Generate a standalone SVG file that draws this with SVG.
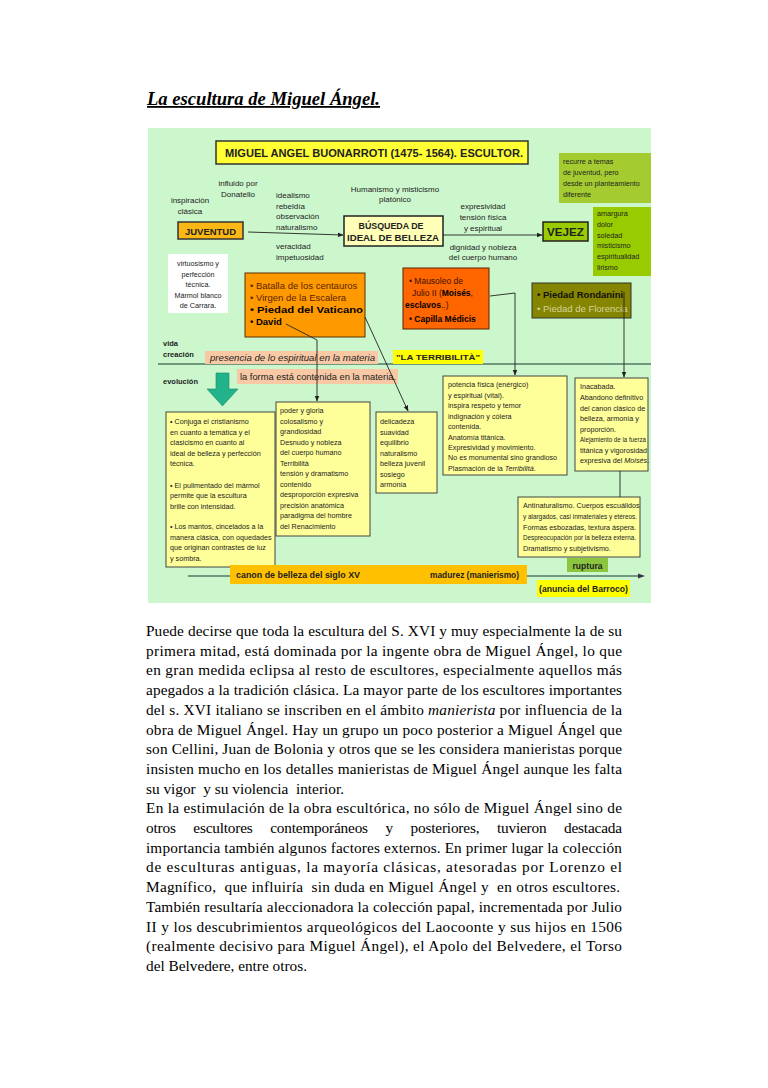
<svg xmlns="http://www.w3.org/2000/svg" width="768" height="1088" viewBox="0 0 768 1088">
<style>
.s{font-family:"Liberation Sans",Arial,sans-serif;fill:#222}
.l{font-size:8px}
.t{font-size:7.2px}
.b{font-weight:bold}
.i{font-style:italic}
.m{text-anchor:middle}
.body{font-family:"Liberation Serif","Times New Roman",serif;font-size:15.3px;fill:#000}
.box{stroke:#333;stroke-width:1}
.yb{fill:#ffff99;stroke:#444;stroke-width:1}
.cn{fill:none;stroke:#222;stroke-width:0.9}
</style>
<defs>
<marker id="ah" viewBox="0 0 10 10" refX="9" refY="5" markerWidth="6" markerHeight="6" markerUnits="userSpaceOnUse" orient="auto">
<path d="M0,1 L10,5 L0,9 z" fill="#222"/>
</marker>
</defs>
<rect width="768" height="1088" fill="#fff"/>
<text x="147" y="105" font-family="Liberation Serif,serif" font-size="18" font-weight="bold" font-style="italic" text-decoration="underline" fill="#000" textLength="233" lengthAdjust="spacingAndGlyphs">La escultura de Miguel Ángel.</text>

<rect x="148" y="128" width="503" height="475" fill="#ccf7cc"/>

<g id="title">
<rect x="216" y="141" width="312" height="23" fill="#ffff33" stroke="#333" stroke-width="1.5"/>
<text class="s b" x="225" y="157" font-size="11" textLength="298" lengthAdjust="spacingAndGlyphs">MIGUEL ANGEL BUONARROTI (1475- 1564). ESCULTOR.</text>
</g>

<g id="labels-juventud">
<text class="s l m" x="238" y="186">influido por</text>
<text class="s l m" x="238" y="197">Donatello</text>
<text class="s l m" x="190" y="203">inspiración</text>
<text class="s l m" x="190" y="214">clásica</text>
</g>

<g id="juventud">
<rect x="178" y="222" width="65" height="17" fill="#fbb814" stroke="#333" stroke-width="1.5"/>
<text class="s b m" x="210.5" y="234.5" font-size="9.5" textLength="51" lengthAdjust="spacingAndGlyphs">JUVENTUD</text>
</g>

<g id="labels-busqueda-left">
<text class="s l" x="276" y="198">idealismo</text>
<text class="s l" x="276" y="208.5">rebeldía</text>
<text class="s l" x="276" y="219">observación</text>
<text class="s l" x="276" y="229.5">naturalismo</text>
<text class="s l" x="276" y="249">veracidad</text>
<text class="s l" x="276" y="259.5">impetuosidad</text>
<text class="s l m" x="395" y="192">Humanismo y misticismo</text>
<text class="s l m" x="395" y="202">platónico</text>
</g>

<g id="busqueda">
<rect x="344" y="216" width="99" height="30" fill="#ffffb8" stroke="#222" stroke-width="1.5"/>
<text class="s b m" x="391" y="228.5" font-size="9" textLength="65" lengthAdjust="spacingAndGlyphs">BÚSQUEDA DE</text>
<text class="s b m" x="393" y="241" font-size="9" textLength="92" lengthAdjust="spacingAndGlyphs">IDEAL DE BELLEZA</text>
</g>

<g id="labels-vejez-left">
<text class="s l m" x="483" y="209">expresividad</text>
<text class="s l m" x="483" y="220">tensión física</text>
<text class="s l m" x="483" y="231">y espiritual</text>
<text class="s l m" x="483" y="250">dignidad y nobleza</text>
<text class="s l m" x="483" y="260">del cuerpo humano</text>
</g>

<g id="vejez">
<rect x="543" y="222" width="45" height="19" fill="#99cc00" stroke="#222" stroke-width="1.5"/>
<text class="s b m" x="565.5" y="235.5" font-size="10" textLength="37" lengthAdjust="spacingAndGlyphs">VEJEZ</text>
</g>

<g id="recurre">
<rect x="559" y="153" width="92" height="50" fill="#a4cc30"/>
<text class="s t" x="563" y="164">recurre a temas</text>
<text class="s t" x="563" y="175">de juventud, pero</text>
<text class="s t" x="563" y="186">desde un planteamiento</text>
<text class="s t" x="563" y="197">diferente</text>
</g>

<g id="amargura">
<rect x="593" y="207" width="58" height="69" fill="#99cc00"/>
<text class="s t" x="597" y="216">amargura</text>
<text class="s t" x="597" y="226.5">dolor</text>
<text class="s t" x="597" y="237.5">soledad</text>
<text class="s t" x="597" y="248">misticismo</text>
<text class="s t" x="597" y="259">espiritualidad</text>
<text class="s t" x="597" y="270">lirismo</text>
</g>

<g id="virtuosismo">
<rect x="168" y="254" width="60" height="59" fill="#ffffff"/>
<text class="s t m" x="198" y="266">virtuosismo y</text>
<text class="s t m" x="198" y="276.5">perfección</text>
<text class="s t m" x="198" y="287">técnica.</text>
<text class="s t m" x="198" y="297.5">Mármol blanco</text>
<text class="s t m" x="198" y="308">de Carrara.</text>
</g>

<g id="obras-juventud">
<rect x="245" y="273" width="120" height="64" fill="#ff9900" stroke="#5a3000" stroke-width="1"/>
<text class="s" x="250" y="288.5" font-size="9.5" style="fill:#5a2400">• Batalla de los centauros</text>
<text class="s" x="250" y="300.5" font-size="9.5" style="fill:#5a2400">• Virgen de la Escalera</text>
<text class="s b" x="250" y="312.5" font-size="9.5" textLength="113" lengthAdjust="spacingAndGlyphs" style="fill:#000">• Piedad del  Vaticano</text>
<text class="s b" x="250" y="324.5" font-size="9.5" style="fill:#000">• David</text>
</g>

<g id="obras-madurez">
<rect x="403" y="268" width="86" height="61" fill="#ff6600" stroke="#5a2000" stroke-width="1"/>
<text class="s" x="409" y="284" font-size="8.5" style="fill:#3a1000">• Mausoleo de</text>
<text class="s" x="412" y="296" font-size="8.5" style="fill:#3a1000">Julio II (<tspan font-weight="bold" style="fill:#000">Moisés</tspan>,</text>
<text class="s" x="405" y="308" font-size="8.5" style="fill:#3a1000"><tspan font-weight="bold" style="fill:#000">esclavos</tspan>..)</text>
<text class="s b" x="409" y="322" font-size="8.5" style="fill:#000">• Capilla Médicis</text>
</g>

<g id="obras-vejez">
<rect x="532" y="283" width="99" height="35" fill="#858500" stroke="#333" stroke-width="1"/>
<text class="s b" x="537" y="297.5" font-size="9.5" style="fill:#111">• Piedad Rondanini</text>
<text class="s" x="537" y="311.5" font-size="9.5" style="fill:#d4d49a">• Piedad de Florencia</text>
</g>

<g id="timeline-top">
<line x1="158" y1="364" x2="651" y2="364" stroke="#557766" stroke-width="1.5"/>
<text class="s b" x="163" y="345.5" font-size="7.5">vida</text>
<text class="s b" x="163" y="356.5" font-size="7.5">creación</text>
<text class="s b" x="163" y="384" font-size="7.5">evolución</text>
</g>

<g id="presencia">
<rect x="205" y="351" width="173" height="13" fill="#f9c9a5"/>
<text class="s i" x="210" y="360.5" font-size="8.5" textLength="165" lengthAdjust="spacingAndGlyphs">presencia de lo espiritual  en la materia</text>
</g>

<g id="terribilita">
<rect x="393" y="350" width="90" height="14" fill="#ffff00"/>
<text class="s b" x="396" y="360" font-size="8" textLength="84" lengthAdjust="spacingAndGlyphs">"LA TERRIBILITÀ"</text>
</g>

<g id="forma">
<rect x="237" y="369" width="161" height="15" fill="#f9c9a5"/>
<text class="s" x="240" y="380" font-size="8.5" textLength="156" lengthAdjust="spacingAndGlyphs">la forma está contenida en la materia.</text>
</g>

<g id="flecha-evolucion">
<polygon points="216,373 229,373 229,389 238,389 222.5,406 207,389 216,389" fill="#22b38b" stroke="#178a6a" stroke-width="0.6"/>
</g>

<g id="conjuga">
<rect class="yb" x="166" y="412" width="109" height="155"/>
<text class="s t" x="170" y="424">• Conjuga el cristianismo</text>
<text class="s t" x="170" y="435">en cuanto a temática y el</text>
<text class="s t" x="170" y="445">clasicismo en cuanto al</text>
<text class="s t" x="170" y="456">ideal de belleza y perfección</text>
<text class="s t" x="170" y="466">técnica.</text>
<text class="s t" x="170" y="488">• El pulimentado del mármol</text>
<text class="s t" x="170" y="498">permite que la escultura</text>
<text class="s t" x="170" y="509">brille con intensidad.</text>
<text class="s t" x="170" y="529">• Los mantos, cincelados a la</text>
<text class="s t" x="170" y="540">manera clásica, con oquedades</text>
<text class="s t" x="170" y="550">que originan contrastes de luz</text>
<text class="s t" x="170" y="561">y sombra.</text>
</g>

<g id="poder">
<rect class="yb" x="276" y="402" width="94" height="134"/>
<text class="s t" x="280" y="413">poder y gloria</text>
<text class="s t" x="280" y="424">colosalismo y</text>
<text class="s t" x="280" y="434">grandiosidad</text>
<text class="s t" x="280" y="445">Desnudo y nobleza</text>
<text class="s t" x="280" y="455">del cuerpo humano</text>
<text class="s t" x="280" y="466">Terribilità</text>
<text class="s t" x="280" y="476">tensión y dramatismo</text>
<text class="s t" x="280" y="487">contenido</text>
<text class="s t" x="280" y="497">desproporción expresiva</text>
<text class="s t" x="280" y="508">precisión anatómica</text>
<text class="s t" x="280" y="518">paradigma del hombre</text>
<text class="s t" x="280" y="529">del Renacimiento</text>
</g>

<g id="delicadeza">
<rect class="yb" x="376" y="412" width="61" height="81"/>
<text class="s t" x="380" y="424">delicadeza</text>
<text class="s t" x="380" y="435">suavidad</text>
<text class="s t" x="380" y="445">equilibrio</text>
<text class="s t" x="380" y="456">naturalismo</text>
<text class="s t" x="380" y="466">belleza juvenil</text>
<text class="s t" x="380" y="477">sosiego</text>
<text class="s t" x="380" y="487">armonía</text>
</g>

<g id="potencia">
<rect class="yb" x="443" y="376" width="124" height="99"/>
<text class="s t" x="448" y="387">potencia física (enérgico)</text>
<text class="s t" x="448" y="398">y espiritual (vital).</text>
<text class="s t" x="448" y="408">inspira respeto y temor</text>
<text class="s t" x="448" y="419">indignación y cólera</text>
<text class="s t" x="448" y="429">contenida.</text>
<text class="s t" x="448" y="440">Anatomía titánica.</text>
<text class="s t" x="448" y="450">Expresividad y movimiento.</text>
<text class="s t" x="448" y="460">No es monumental sino grandioso</text>
<text class="s t" x="448" y="471">Plasmación de la <tspan class="i">Terribilità</tspan>.</text>
</g>

<g id="inacabada">
<rect class="yb" x="575" y="378" width="73" height="93"/>
<text class="s t" x="580" y="389">Inacabada.</text>
<text class="s t" x="580" y="400">Abandono definitivo</text>
<text class="s t" x="580" y="411">del canon clásico de</text>
<text class="s t" x="580" y="421">belleza, armonía y</text>
<text class="s t" x="580" y="432">proporción.</text>
<text class="s t" x="580" y="442" textLength="66" lengthAdjust="spacingAndGlyphs">Alejamiento de la fuerza</text>
<text class="s t" x="580" y="453">titánica y vigorosidad</text>
<text class="s t" x="580" y="463">expresiva del <tspan class="i">Moisés</tspan>.</text>
</g>

<g id="antinaturalismo">
<rect class="yb" x="518" y="497" width="122" height="60"/>
<text class="s t" x="523" y="508">Antinaturalismo. Cuerpos escuálidos</text>
<text class="s t" x="523" y="519" textLength="114" lengthAdjust="spacingAndGlyphs">y alargados, casi inmateriales y etéreos.</text>
<text class="s t" x="523" y="530">Formas esbozadas, textura áspera.</text>
<text class="s t" x="523" y="540" textLength="113" lengthAdjust="spacingAndGlyphs">Despreocupación por la belleza externa.</text>
<text class="s t" x="523" y="551">Dramatismo y subjetivismo.</text>
</g>

<g id="connectors">
<line class="cn" x1="248" y1="232" x2="343" y2="235" marker-end="url(#ah)"/>
<line class="cn" x1="443" y1="235" x2="542" y2="235" marker-end="url(#ah)"/>
<polyline class="cn" points="286,324 317,340 317,401" marker-end="url(#ah)"/>
<line class="cn" x1="365" y1="317" x2="408" y2="411" marker-end="url(#ah)"/>
<polyline class="cn" points="490,296 515,293 515,375" marker-end="url(#ah)"/>
<line class="cn" x1="624" y1="292" x2="624" y2="377" marker-end="url(#ah)"/>
<line class="cn" x1="620" y1="471" x2="620" y2="497"/>
<line x1="188" y1="576" x2="640" y2="576" stroke="#557766" stroke-width="1.5"/>
<path d="M638,573.5 L645,576 L638,578.5 z" fill="#334"/>
</g>

<g id="canon">
<rect x="230" y="565" width="297" height="19" fill="#ffc000"/>
<text class="s b" x="236" y="578" font-size="8.5" textLength="124" lengthAdjust="spacingAndGlyphs">canon de belleza del siglo XV</text>
<text class="s b" x="430" y="578" font-size="8.5" textLength="89" lengthAdjust="spacingAndGlyphs">madurez (manierismo)</text>
</g>

<g id="ruptura">
<rect x="567" y="558" width="41" height="14" fill="#8cc63f"/>
<text class="s b m" x="587.5" y="568.5" font-size="8.5" textLength="30" lengthAdjust="spacingAndGlyphs">ruptura</text>
</g>

<g id="barroco">
<rect x="537" y="580" width="93" height="17" fill="#ffff00"/>
<text class="s b" x="539" y="592" font-size="8.5" textLength="89" lengthAdjust="spacingAndGlyphs">(anuncia del Barroco)</text>
</g>

<g id="body-text">
<text class="body" x="146" y="636" textLength="476" lengthAdjust="spacing">Puede decirse que toda la escultura del S. XVI y muy especialmente la de su</text>
<text class="body" x="146" y="655.7" textLength="476" lengthAdjust="spacing">primera mitad, está dominada por la ingente obra de Miguel Ángel, lo que</text>
<text class="body" x="146" y="675.4" textLength="476" lengthAdjust="spacing">en gran medida eclipsa al resto de escultores, especialmente aquellos más</text>
<text class="body" x="146" y="695.1" textLength="476" lengthAdjust="spacing">apegados a la tradición clásica. La mayor parte de los escultores importantes</text>
<text class="body" x="146" y="714.8" textLength="476" lengthAdjust="spacing">del s. XVI italiano se inscriben en el ámbito <tspan font-style="italic">manierista</tspan> por influencia de la</text>
<text class="body" x="146" y="734.5" textLength="476" lengthAdjust="spacing">obra de Miguel Ángel. Hay un grupo un poco posterior a Miguel Ángel que</text>
<text class="body" x="146" y="754.2" textLength="476" lengthAdjust="spacing">son Cellini, Juan de Bolonia y otros que se les considera manieristas porque</text>
<text class="body" x="146" y="773.9" textLength="476" lengthAdjust="spacing">insisten mucho en los detalles manieristas de Miguel Ángel aunque les falta</text>
<text class="body" x="146" y="793.6" xml:space="preserve">su vigor  y su violencia  interior.</text>
<text class="body" x="146" y="813.3" textLength="476" lengthAdjust="spacing">En la estimulación de la obra escultórica, no sólo de Miguel Ángel sino de</text>
<text class="body" x="146" y="833" textLength="476" lengthAdjust="spacing" word-spacing="14">otros escultores contemporáneos y posteriores, tuvieron destacada</text>
<text class="body" x="146" y="852.7" textLength="476" lengthAdjust="spacing">importancia también algunos factores externos. En primer lugar la colección</text>
<text class="body" x="146" y="872.4" textLength="476" lengthAdjust="spacing">de esculturas antiguas, la mayoría clásicas, atesoradas por Lorenzo el</text>
<text class="body" x="146" y="892.1" xml:space="preserve" textLength="474" lengthAdjust="spacing">Magnífico,  que influiría  sin duda en Miguel Ángel y  en otros escultores.</text>
<text class="body" x="146" y="911.8" textLength="476" lengthAdjust="spacing">También resultaría aleccionadora la colección papal, incrementada por Julio</text>
<text class="body" x="146" y="931.5" textLength="476" lengthAdjust="spacing">II y los descubrimientos arqueológicos del Laocoonte y sus hijos en 1506</text>
<text class="body" x="146" y="951.2" textLength="476" lengthAdjust="spacing">(realmente decisivo para Miguel Ángel), el Apolo del Belvedere, el Torso</text>
<text class="body" x="146" y="970.9">del Belvedere, entre otros.</text>
</g>
</svg>
